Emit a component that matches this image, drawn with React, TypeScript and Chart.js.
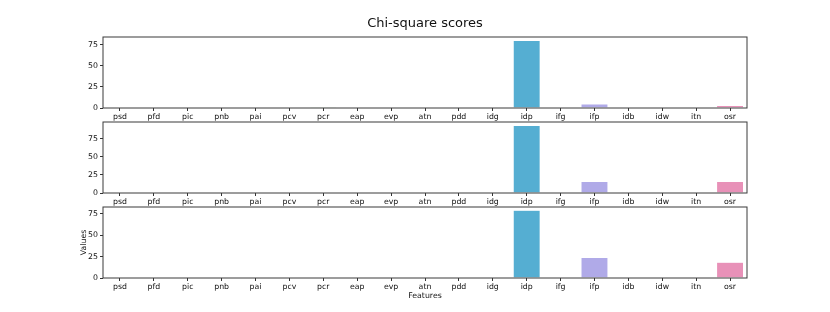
import { useEffect, useRef } from "react";
import { Chart, registerables } from "chart.js";

Chart.register(...registerables);

const features = ["psd", "pfd", "pic", "pnb", "pai", "pcv", "pcr", "eap", "evp", "atn", "pdd", "idg", "idp", "ifg", "ifp", "idb", "idw", "itn", "osr"];
const palette = ["#ef8a8f", "#e8936a", "#d69e4e", "#c3a64b", "#aeae4b", "#92b54c", "#5fbc6c", "#4fb98f", "#50b6a4", "#52b4b3", "#54b2c1", "#56b0cd", "#55aed2", "#8aa9e3", "#b0aae8", "#c8a2e6", "#dc98df", "#e793cf", "#e891b8"];
const scoresTop = [0, 0, 0, 0, 0, 0, 0.2, 0, 0, 0, 0, 0.6, 80.5, 0, 4.8, 0, 0, 0, 3.2];
const scoresMid = [0, 0, 0, 0, 0, 0, 0, 0, 0, 0, 0, 0, 93.2, 0, 16.1, 0, 0, 0, 16.1];
const scoresBot = [0, 0, 0, 0, 0, 0, 0, 0, 0, 0, 0, 0, 79.3, 0, 24.0, 0, 0, 0, 18.4];
const yTicks = [0, 25, 50, 75];
const yMaxes = [84.5, 97.9, 83.0];
const titleText = "Chi-square scores";
const xTitle = "Features";
const yTitle = "Values";

const W = 830;
const H = 312;
const LEFT = 103;
const RIGHT = 747;
const FONT = "'DejaVu Sans', sans-serif";
const TICK_SIZE = 7.8;

const panels = [
  { data: scoresTop, max: yMaxes[0], top: 37, bottom: 108, axisH: 14, last: false, first: true },
  { data: scoresMid, max: yMaxes[1], top: 122, bottom: 193, axisH: 14, last: false, first: false },
  { data: scoresBot, max: yMaxes[2], top: 207, bottom: 278, axisH: 22.5, last: true, first: false },
];

function Panel({ cfg }: { cfg: typeof panels[number] }) {
  const ref = useRef<HTMLCanvasElement | null>(null);
  useEffect(() => {
    const canvas = ref.current;
    if (!canvas) return;
    const frame = {
      id: "frame",
      afterDraw(chart: any) {
        const { ctx, chartArea } = chart;
        ctx.save();
        ctx.strokeStyle = "#3a3a3a";
        ctx.lineWidth = 1;
        ctx.strokeRect(chartArea.left, chartArea.top, chartArea.right - chartArea.left, chartArea.bottom - chartArea.top);
        if (cfg.first) {
          ctx.fillStyle = "#111";
          ctx.font = `13px ${FONT}`;
          ctx.textAlign = "center";
          ctx.textBaseline = "alphabetic";
          ctx.fillText(titleText, (chartArea.left + chartArea.right) / 2, 26.5);
        }
        ctx.restore();
      },
    };
    const chart = new Chart(canvas, {
      type: "bar",
      data: {
        labels: features,
        datasets: [
          {
            data: cfg.data,
            backgroundColor: palette,
            borderColor: "rgba(255,255,255,0.25)",
            borderWidth: 0.6,
            barPercentage: 0.8,
            categoryPercentage: 1,
          },
        ],
      },
      options: {
        responsive: false,
        animation: false,
        layout: { padding: { left: 79, right: W - RIGHT, top: cfg.top, bottom: H - cfg.bottom - cfg.axisH } },
        plugins: { legend: { display: false }, tooltip: { enabled: false }, title: { display: false } },
        scales: {
          x: {
            offset: true,
            border: { display: false },
            grid: { display: true, drawOnChartArea: false, drawTicks: true, tickLength: 3, offset: false, color: "#333" },
            ticks: { autoSkip: false, maxRotation: 0, minRotation: 0, padding: 1.5, color: "#111", font: { family: FONT, size: TICK_SIZE } },
            title: { display: cfg.last, text: xTitle, color: "#111", padding: 0, font: { family: FONT, size: TICK_SIZE } },
            afterFit(scale: any) {
              scale.height = cfg.axisH;
            },
          },
          y: {
            min: 0,
            max: cfg.max,
            border: { display: false },
            grid: { display: true, drawOnChartArea: false, drawTicks: true, tickLength: 3, color: "#333" },
            ticks: {
              includeBounds: false,
              stepSize: 25,
              padding: 2,
              color: "#111",
              font: { family: FONT, size: TICK_SIZE },
            },
            afterBuildTicks(scale: any) {
              scale.ticks = yTicks.filter((v) => v <= cfg.max).map((v) => ({ value: v }));
            },
            title: { display: cfg.last, text: yTitle, color: "#111", padding: 0, font: { family: FONT, size: TICK_SIZE } },
            afterFit(scale: any) {
              scale.width = LEFT - 79;
            },
          },
        },
      },
      plugins: [frame],
    });
    return () => chart.destroy();
  }, [cfg]);
  return (
    <canvas
      ref={ref}
      width={W}
      height={H}
      style={{ position: "absolute", left: 0, top: 0, width: W, height: H }}
    />
  );
}

export default function App() {
  return (
    <div style={{ position: "absolute", left: 0, top: 0, width: W, height: H, background: "#fff", overflow: "hidden" }}>
      {panels.map((p, i) => (
        <Panel key={i} cfg={p} />
      ))}
    </div>
  );
}
